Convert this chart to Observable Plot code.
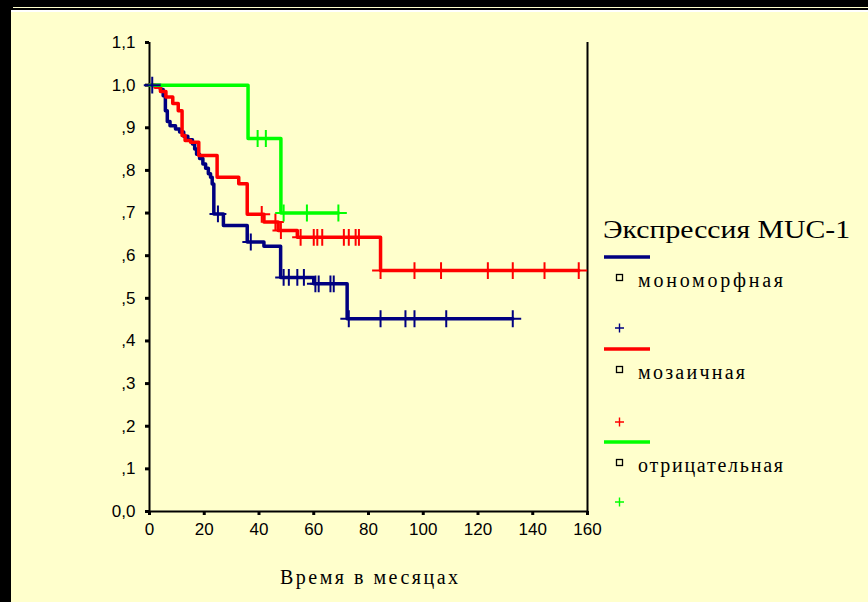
<!DOCTYPE html>
<html><head><meta charset="utf-8">
<script src="https://cdn.jsdelivr.net/npm/d3@7"></script>
<script src="https://cdn.jsdelivr.net/npm/@observablehq/plot@0.6"></script>
<style>
html,body{margin:0;padding:0;background:#000;width:868px;height:602px;overflow:hidden;position:relative}
#panel{position:absolute;left:11px;top:10px;width:857px;height:592px;background:#FFFFCC;border-top:2px solid #fff;box-sizing:border-box}
#topline{position:absolute;left:13px;top:7px;width:855px;height:1px;background:#FFFFCC}
#chart{position:absolute;left:0;top:0}
#overlay{position:absolute;left:0;top:0}
</style></head><body>
<div id="topline"></div>
<div id="panel"></div>
<div id="chart"></div>
<svg id="overlay" width="868" height="602"></svg>
<script>
// ---- data ----
const groupNames = ["мономорфная", "мозаичная", "отрицательная"];
const groupColors = ["#000080", "#FF0000", "#00FF00"];
const legendTitle = "Экспрессия MUC-1";
const xTitle = "Время в месяцах";

const monoTimes = [4, 5, 5.8, 6.5, 7.5, 9.5, 11, 12.5, 14, 15.7, 16.5, 17.2, 18.3, 19.5, 20.5, 21.5, 22.3, 22.9, 23.5, 27, 35.7, 41.8, 47.9, 60, 72.2];
const monoSurv  = [0.99, 0.975, 0.94, 0.915, 0.905, 0.897, 0.89, 0.88, 0.872, 0.862, 0.85, 0.838, 0.828, 0.815, 0.805, 0.792, 0.784, 0.768, 0.698, 0.671, 0.632, 0.622, 0.549, 0.534, 0.452];
const monoCensor = [1, 25, 37, 49, 50.9, 54, 56.4, 60.6, 61.8, 66.1, 67.3, 72.8, 84.4, 93.5, 96.8, 108.4, 132.7];

const mosTimes = [2, 4, 6, 8.5, 10.5, 11.9, 13, 15, 18, 24.7, 32.6, 35.7, 41.8, 47, 54, 84.4];
const mosSurv  = [0.995, 0.985, 0.972, 0.957, 0.94, 0.882, 0.87, 0.866, 0.835, 0.784, 0.769, 0.697, 0.679, 0.659, 0.643, 0.565];
const mosCensor = [41, 46, 48, 55.2, 60, 61.3, 63.1, 71, 72.8, 75.3, 76.5, 84.4, 96.8, 106.5, 123.6, 132.7, 144.3, 156.8];

const negTimes = [36, 48];
const negSurv  = [0.875, 0.70];
const negCensor = [39.5, 42.5, 49, 57.5, 69];

const xTicks = [0, 20, 40, 60, 80, 100, 120, 140, 160];
const yTicks = [0, 0.1, 0.2, 0.3, 0.4, 0.5, 0.6, 0.7, 0.8, 0.9, 1.0, 1.1];
const yTickLabels = ["0,0", ",1", ",2", ",3", ",4", ",5", ",6", ",7", ",8", ",9", "1,0", "1,1"];

// ---- build tables ----
const series = [
  {name: groupNames[0], color: groupColors[0], times: monoTimes, surv: monoSurv, censor: monoCensor},
  {name: groupNames[1], color: groupColors[1], times: mosTimes, surv: mosSurv, censor: mosCensor},
  {name: groupNames[2], color: groupColors[2], times: negTimes, surv: negSurv, censor: negCensor}
];
function survAt(s, t) { let v = 1; s.times.forEach((tt, i) => { if (tt <= t) v = s.surv[i]; }); return v; }
const lineMarks = [], dotMarks = [];
series.forEach(s => {
  const end = Math.max(...s.censor, ...s.times);
  const pts = [{t: 0, s: 1}];
  s.times.forEach((t, i) => pts.push({t, s: s.surv[i]}));
  pts.push({t: end, s: s.surv[s.surv.length - 1]});
  lineMarks.push(Plot.line(pts, {x: "t", y: "s", curve: "step-after", stroke: s.color, strokeWidth: 3.5}));
  const cs = s.censor.map(t => ({t, s: survAt(s, t)}));
  dotMarks.push(Plot.dot(cs, {x: "t", y: "s", symbol: "plus", r: 5.5, stroke: s.color, strokeWidth: 2}));
});

const chart = Plot.plot({
  width: 620, height: 550,
  marginLeft: 149, marginRight: 33, marginTop: 42, marginBottom: 39,
  style: {background: "transparent", fontFamily: "'Liberation Sans', Arial, sans-serif", fontSize: "17px", color: "#000", overflow: "visible"},
  x: {domain: [0, 160]},
  y: {domain: [0, 1.1]},
  marks: [
    Plot.axisX({ticks: xTicks, tickSize: 4, tickPadding: 7, strokeWidth: 3, fontSize: 17, label: null, tickFormat: d => String(d)}),
    Plot.axisY({ticks: yTicks, tickSize: 4, tickPadding: 10, strokeWidth: 3, fontSize: 17, label: null, tickFormat: d => yTickLabels[Math.round(d * 10)]}),
    Plot.ruleX([0], {stroke: "#000", strokeWidth: 2}),
    Plot.ruleX([160], {stroke: "#000", strokeWidth: 2}),
    Plot.ruleY([0], {stroke: "#000", strokeWidth: 2}),
    ...lineMarks,
    ...dotMarks
  ]
});
document.getElementById("chart").appendChild(chart);

// ---- legend & axis title (layout) ----
const ov = d3.select("#overlay");
const serif = "'Liberation Serif', 'Times New Roman', serif";
ov.append("text").attr("x", 603).attr("y", 238).attr("font-family", serif).attr("font-size", 26)
  .attr("textLength", 247).attr("lengthAdjust", "spacingAndGlyphs").text(legendTitle);
ov.append("text").attr("x", 280).attr("y", 584).attr("font-family", serif).attr("font-size", 20)
  .attr("textLength", 178).attr("lengthAdjust", "spacing").text(xTitle);
const lineY = [257, 349, 442], plusY = [328, 422, 502], textLen = [145, 107, 145];
series.forEach((s, i) => {
  const g = ov.append("g");
  g.append("line").attr("x1", 604).attr("x2", 650).attr("y1", lineY[i]).attr("y2", lineY[i]).attr("stroke", s.color).attr("stroke-width", 3.5);
  g.append("rect").attr("x", 616.5).attr("y", lineY[i] + 17.5).attr("width", 6).attr("height", 6).attr("fill", "none").attr("stroke", "#000").attr("stroke-width", 1.3);
  g.append("text").attr("x", 638).attr("y", lineY[i] + 30).attr("font-family", serif).attr("font-size", 20)
    .attr("textLength", textLen[i]).attr("lengthAdjust", "spacing").text(s.name);
  g.append("path").attr("d", `M${615},${plusY[i]}h9M${619.5},${plusY[i] - 4.5}v9`).attr("stroke", s.color).attr("stroke-width", 1.4);
});
</script>
</body></html>
